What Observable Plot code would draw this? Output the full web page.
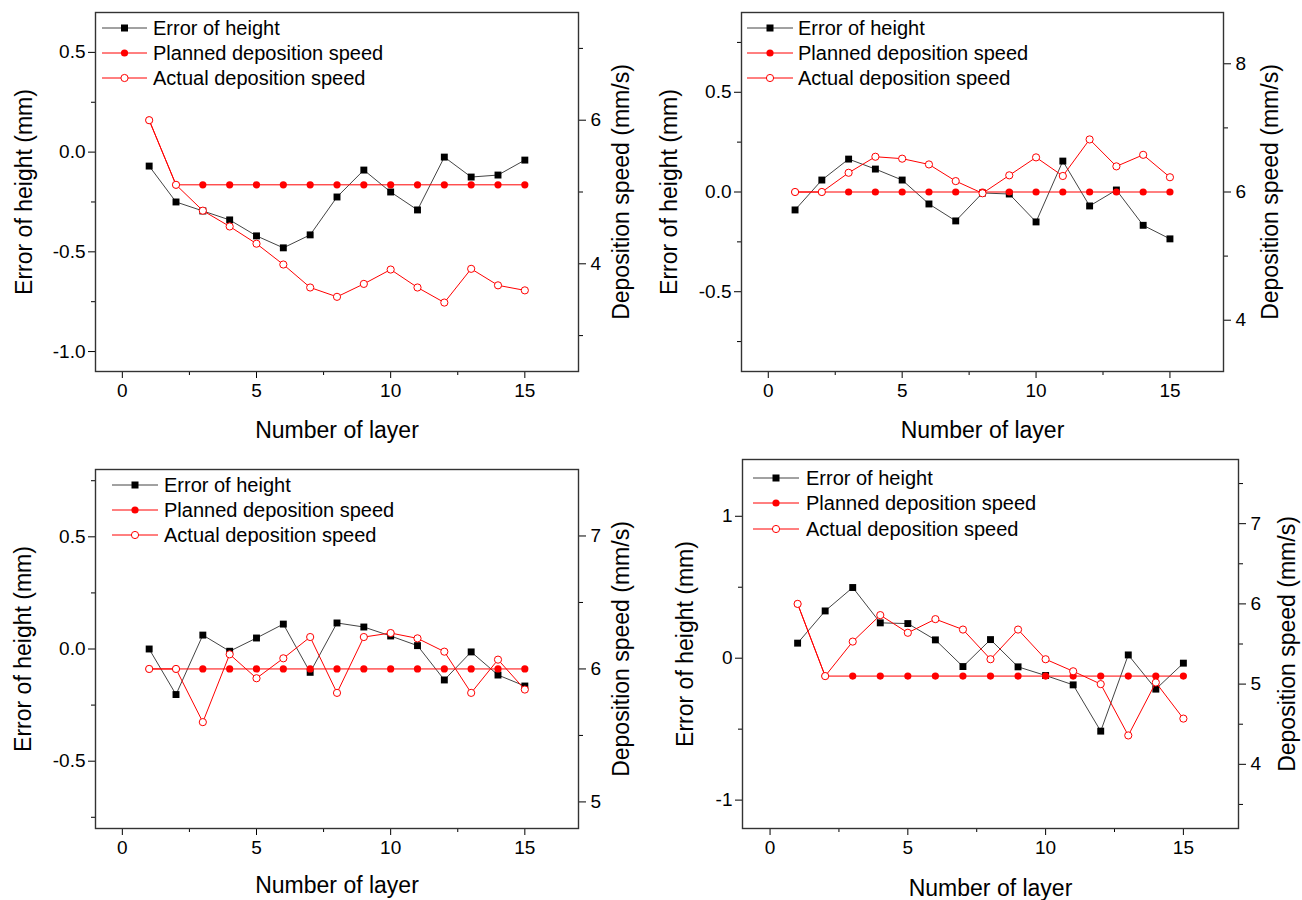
<!DOCTYPE html>
<html><head><meta charset="utf-8">
<script src="https://cdn.jsdelivr.net/npm/d3@7"></script>
<script src="https://cdn.jsdelivr.net/npm/@observablehq/plot@0.6"></script>
<style>
body{margin:0;background:#fff;font-family:"Liberation Sans",Arial,sans-serif;}
#wrap{position:relative;width:1302px;height:900px;overflow:hidden;background:#fff;}
.panel{position:absolute;}
.lrow{position:absolute;display:flex;align-items:center;height:24px;font-size:20px;color:#000;white-space:nowrap;}
</style></head><body><div id="wrap"></div>
<script>
// ---------- data ----------
const layers = [1,2,3,4,5,6,7,8,9,10,11,12,13,14,15];
const seriesNames = ["Error of height","Planned deposition speed","Actual deposition speed"];
const xTitle = "Number of layer";
const leftTitle = "Error of height (mm)";
const rightTitle = "Deposition speed (mm/s)";
const xTicks = [0,5,10,15];
const xMinorTicks = [2.5,7.5,12.5];

// panel A (top-left)
const errorA   = [-0.07,-0.25,-0.295,-0.34,-0.42,-0.48,-0.415,-0.225,-0.09,-0.2,-0.29,-0.025,-0.125,-0.115,-0.04];
const plannedA = [6.0,5.1,5.1,5.1,5.1,5.1,5.1,5.1,5.1,5.1,5.1,5.1,5.1,5.1,5.1];
const actualA  = [6.0,5.1,4.74,4.52,4.28,3.99,3.67,3.54,3.72,3.92,3.67,3.46,3.93,3.70,3.63];
const leftTicksA = [-1.0,-0.5,0.0,0.5];
const leftMinorA = [-0.75,-0.25,0.25];
const rightTicksA = [4,6];
const rightMinorA = [3,5,7];

// panel B (top-right)
const errorB   = [-0.09,0.06,0.165,0.115,0.06,-0.06,-0.145,-0.005,-0.01,-0.15,0.155,-0.07,0.01,-0.167,-0.235];
const plannedB = [6.0,6.0,6.0,6.0,6.0,6.0,6.0,6.0,6.0,6.0,6.0,6.0,6.0,6.0,6.0];
const actualB  = [6.0,6.0,6.30,6.55,6.52,6.43,6.17,5.98,6.26,6.54,6.25,6.82,6.40,6.58,6.23];
const leftTicksB = [-0.5,0.0,0.5];
const leftMinorB = [-0.75,-0.25,0.25,0.75];
const rightTicksB = [4,6,8];
const rightMinorB = [5,7];

// panel C (bottom-left)
const errorC   = [0.0,-0.203,0.062,-0.01,0.049,0.111,-0.104,0.116,0.098,0.058,0.015,-0.138,-0.013,-0.116,-0.165];
const plannedC = [6.0,6.0,6.0,6.0,6.0,6.0,6.0,6.0,6.0,6.0,6.0,6.0,6.0,6.0,6.0];
const actualC  = [6.0,6.0,5.60,6.11,5.93,6.08,6.24,5.82,6.24,6.27,6.23,6.13,5.82,6.07,5.845];
const leftTicksC = [-0.5,0.0,0.5];
const leftMinorC = [-0.75,-0.25,0.25,0.75];
const rightTicksC = [5,6,7];
const rightMinorC = [5.5,6.5];

// panel D (bottom-right)
const errorD   = [0.106,0.333,0.498,0.249,0.244,0.129,-0.059,0.131,-0.061,-0.122,-0.188,-0.514,0.023,-0.218,-0.035];
const plannedD = [6.0,5.1,5.1,5.1,5.1,5.1,5.1,5.1,5.1,5.1,5.1,5.1,5.1,5.1,5.1];
const actualD  = [6.0,5.1,5.53,5.86,5.64,5.81,5.68,5.31,5.68,5.31,5.16,5.0,4.36,5.02,4.57];
const leftTicksD = [-1,0,1];
const leftMinorD = [-0.5,0.5];
const rightTicksD = [4,5,6,7];
const rightMinorD = [3.5,4.5,5.5,6.5,7.5];

// ---------- layout ----------
const panels = [
  {left:0,top:0, m:[12,73,79,95], leftDomain:[-1.1,0.7], rightDomain:[2.5,7.5],
   error:errorA, planned:plannedA, actual:actualA,
   lt:leftTicksA, lm:leftMinorA, rt:rightTicksA, rm:rightMinorA, lfmt:d=>d.toFixed(1),
   xdy:59, ldx:-71, rdx:43, legend:{x0:102,x1:147,tx:153,ys:[28,53,78]}},
  {left:651,top:0, m:[12,79,79,90], leftDomain:[-0.9,0.9], rightDomain:[3.2,8.8],
   error:errorB, planned:plannedB, actual:actualB,
   lt:leftTicksB, lm:leftMinorB, rt:rightTicksB, rm:rightMinorB, lfmt:d=>d.toFixed(1),
   xdy:59, ldx:-72, rdx:47, legend:{x0:747,x1:793,tx:798,ys:[28,53,78]}},
  {left:0,top:450, m:[19,73,72,95], leftDomain:[-0.8,0.8], rightDomain:[4.8,7.5],
   error:errorC, planned:plannedC, actual:actualC,
   lt:leftTicksC, lm:leftMinorC, rt:rightTicksC, rm:rightMinorC, lfmt:d=>d.toFixed(1),
   xdy:57, ldx:-72, rdx:43, legend:{x0:112,x1:158,tx:164,ys:[485,510,535]}},
  {left:651,top:450, m:[9,64,72,91], leftDomain:[-1.2,1.4], rightDomain:[3.2,7.8],
   error:errorD, planned:plannedD, actual:actualD,
   lt:leftTicksD, lm:leftMinorD, rt:rightTicksD, rm:rightMinorD, lfmt:d=>String(d),
   xdy:60, ldx:-57, rdx:49, legend:{x0:753,x1:799,tx:806,ys:[478,503,529]}}
];

const wrap = document.getElementById("wrap");
const FONT = '"Liberation Sans", Arial, sans-serif';

function drawPanel(p) {
  const toL = d3.scaleLinear().domain(p.rightDomain).range(p.leftDomain);
  const rows = layers.map((x, i) => ({x, err: p.error[i], planned: toL(p.planned[i]), actual: toL(p.actual[i])}));
  const rfmt = v => String(Math.round(toL.invert(v) * 10) / 10);
  const chart = Plot.plot({
    width: 651, height: 450,
    marginTop: p.m[0], marginRight: p.m[1], marginBottom: p.m[2], marginLeft: p.m[3],
    x: {domain: [-1, 17]},
    y: {domain: p.leftDomain},
    style: {fontFamily: FONT, fontSize: "19px", color: "#000", background: "white", overflow: "visible"},
    marks: [
      Plot.axisX(xTicks, {tickSize: 7, tickPadding: 5, fontSize: 19, label: null}),
      Plot.axisX(xMinorTicks, {tickSize: 4, tickFormat: () => "", label: null}),
      Plot.axisY(p.lt, {anchor: "left", tickSize: 7, tickPadding: 3, fontSize: 19, tickFormat: p.lfmt, label: null}),
      Plot.axisY(p.lm, {anchor: "left", tickSize: 4, tickFormat: () => "", label: null}),
      Plot.axisY(p.rt.map(toL), {anchor: "right", tickSize: 7, tickPadding: 5, fontSize: 19, tickFormat: rfmt, label: null}),
      Plot.axisY(p.rm.map(toL), {anchor: "right", tickSize: 4, tickFormat: () => "", label: null}),
      Plot.line(rows, {x: "x", y: "err", stroke: "#444", strokeWidth: 1}),
      Plot.dot(rows, {x: "x", y: "err", symbol: "square", r: 3.9, fill: "#000"}),
      Plot.line(rows, {x: "x", y: "planned", stroke: "#ff0000", strokeWidth: 1}),
      Plot.dot(rows, {x: "x", y: "planned", r: 3.6, fill: "#ff0000"}),
      Plot.line(rows, {x: "x", y: "actual", stroke: "#ff0000", strokeWidth: 1}),
      Plot.dot(rows, {x: "x", y: "actual", r: 3.6, fill: "white", stroke: "#ff0000", strokeWidth: 1}),
      Plot.frame({stroke: "#333", strokeWidth: 1.4}),
      Plot.text([xTitle], {text: d => d, frameAnchor: "bottom", dy: p.xdy, fontSize: 23, lineAnchor: "middle", textAnchor: "middle"}),
      Plot.text([leftTitle], {text: d => d, frameAnchor: "left", dx: p.ldx, rotate: -90, fontSize: 23, lineAnchor: "middle", textAnchor: "middle"}),
      Plot.text([rightTitle], {text: d => d, frameAnchor: "right", dx: p.rdx, rotate: -90, fontSize: 23, lineAnchor: "middle", textAnchor: "middle"})
    ]
  });
  chart.classList.add("panel");
  chart.style.left = p.left + "px";
  chart.style.top = p.top + "px";
  wrap.appendChild(chart);

  // legend
  const L = p.legend;
  const lw = L.x1 - L.x0;
  const samples = [
    `<line x1="0" x2="${lw}" y1="12" y2="12" stroke="#444" stroke-width="1"/><rect x="${lw/2-3.5}" y="8.5" width="7" height="7" fill="#000"/>`,
    `<line x1="0" x2="${lw}" y1="12" y2="12" stroke="#ff0000" stroke-width="1"/><circle cx="${lw/2}" cy="12" r="3.6" fill="#ff0000"/>`,
    `<line x1="0" x2="${lw}" y1="12" y2="12" stroke="#ff0000" stroke-width="1"/><circle cx="${lw/2}" cy="12" r="3.6" fill="white" stroke="#ff0000" stroke-width="1"/>`
  ];
  seriesNames.forEach((name, i) => {
    const row = document.createElement("div");
    row.className = "lrow";
    row.style.left = L.x0 + "px";
    row.style.top = (L.ys[i] - 12) + "px";
    row.innerHTML = `<svg width="${lw}" height="24" style="overflow:visible">${samples[i]}</svg><span style="margin-left:${L.tx - L.x1}px">${name}</span>`;
    wrap.appendChild(row);
  });
}
panels.forEach(drawPanel);
</script></body></html>
